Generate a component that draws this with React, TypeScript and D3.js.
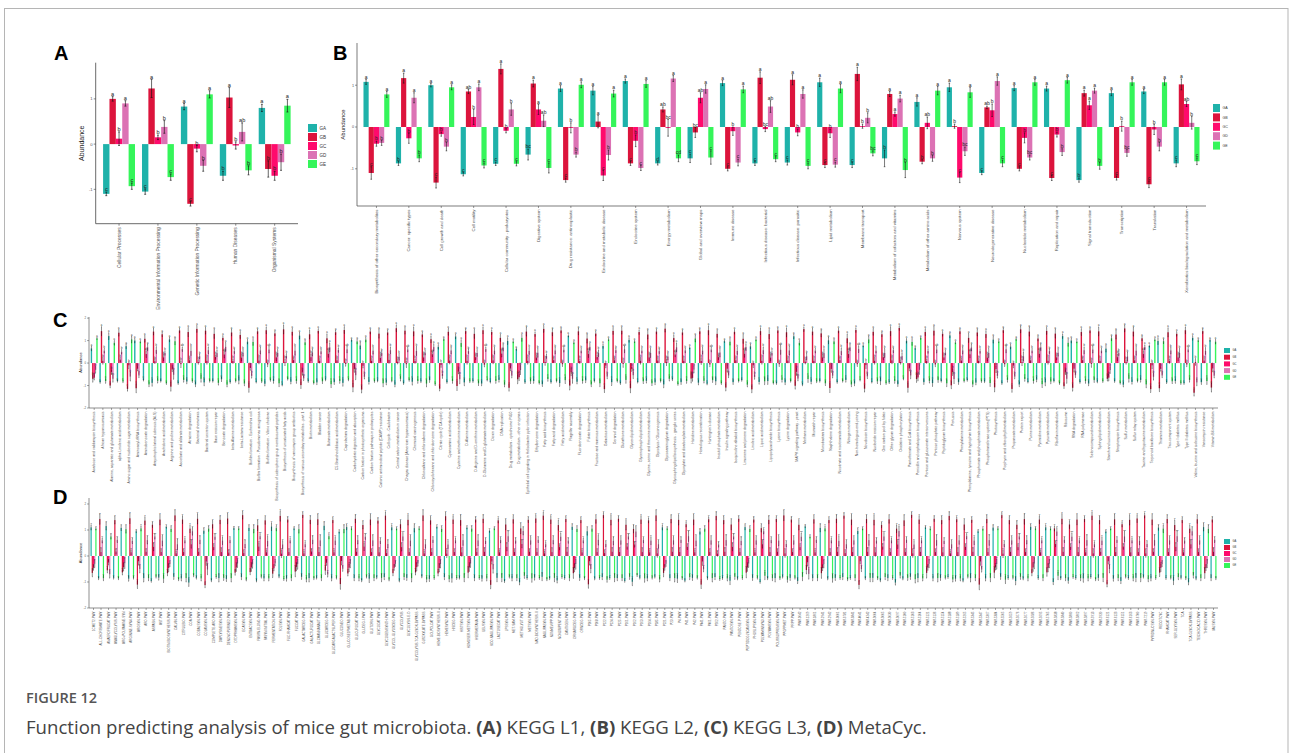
import React from "react";
import * as d3 from "d3";

const groups = ["GA", "GB", "GC", "GD", "GE"];
const groupColors = ["#1FB2AA", "#DC143C", "#FF0A6C", "#DC72B4", "#35F55A"];
const chartFont = "Liberation Sans, Arial, sans-serif";

// ---------- A : KEGG L1
const aCategories = ["Cellular Processes", "Environmental Information Processing", "Genetic Information Processing", "Human Diseases", "Organismal Systems"];
const aGA = [-1.1, -1.05, 0.83, -0.7, 0.8];
const aGB = [1.0, 1.23, -1.32, 1.03, -0.55];
const aGC = [0.12, 0.15, -0.1, -0.03, -0.7];
const aGD = [0.9, 0.38, -0.48, 0.27, -0.4];
const aGE = [-0.93, -0.73, 1.1, -0.58, 0.85];
const aErrGA = [0.04, 0.06, 0.07, 0.1, 0.08];
const aErrGB = [0.05, 0.2, 0.05, 0.22, 0.18];
const aErrGC = [0.15, 0.05, 0.07, 0.08, 0.1];
const aErrGD = [0.06, 0.14, 0.12, 0.2, 0.18];
const aErrGE = [0.07, 0.07, 0.08, 0.1, 0.14];
const aLetGA = ["c", "c", "a", "b", "a"];
const aLetGB = ["a", "a", "c", "a", "b"];
const aLetGC = ["b", "b", "b", "b", "b"];
const aLetGD = ["a", "b", "b", "ab", "b"];
const aLetGE = ["c", "c", "a", "b", "a"];

// ---------- B : KEGG L2
const bCategories = [
  "Biosynthesis of other secondary metabolites", "Cancer: specific types", "Cell growth and death", "Cell motility",
  "Cellular community - prokaryotes", "Digestive system", "Drug resistance: antineoplastic", "Endocrine and metabolic disease",
  "Endocrine system", "Energy metabolism", "Global and overview maps", "Immune disease", "Infectious disease: bacterial",
  "Infectious disease: parasitic", "Lipid metabolism", "Membrane transport", "Metabolism of cofactors and vitamins",
  "Metabolism of other amino acids", "Nervous system", "Neurodegenerative disease", "Nucleotide metabolism",
  "Replication and repair", "Signal transduction", "Transcription", "Translation", "Xenobiotics biodegradation and metabolism",
];
const bGA = [1.08, -0.87, 1.0, -1.13, -0.88, -0.66, 0.92, 0.87, 1.1, -0.87, -0.75, 1.05, -0.87, -0.85, 1.07, -0.91, -0.75, 0.6, 0.95, -1.1, 0.93, 0.92, -1.27, 0.81, 0.85, -0.87];
const bGB = [-1.1, 1.17, -1.33, 0.85, 1.39, 1.04, -1.27, 0.13, -0.87, 0.42, -0.13, -1.0, 1.18, 1.13, -0.91, 1.27, 0.79, -0.83, 0.02, 0.47, -1.0, -1.22, 0.81, -1.22, -1.37, 1.02];
const bGC = [-0.4, -0.27, -0.17, 0.24, -0.09, 0.42, -0.02, -1.16, -0.33, -0.02, 0.7, -0.1, -0.05, -0.13, -0.15, 0.02, 0.31, 0.1, -1.21, 0.4, -0.26, -0.18, 0.52, 0.02, -0.06, 0.55];
const bGD = [-0.38, 0.7, -0.47, 0.95, 0.42, 0.15, -0.66, -0.67, -0.98, 1.16, 0.91, -0.85, 0.49, 0.79, -0.9, 0.22, 0.68, -0.75, -0.58, 1.1, -0.73, -0.6, 0.87, -0.62, -0.47, 0.1];
const bGE = [0.78, -0.75, 0.95, -0.92, -0.88, -0.98, 1.01, 0.8, 1.03, -0.75, -0.73, 0.9, -0.77, -0.93, 0.92, -0.63, -1.03, 0.87, 0.83, -0.87, 1.07, 1.12, -0.93, 1.07, 1.07, -0.82];
const bErrGA = [0.06, 0.05, 0.04, 0.04, 0.04, 0.13, 0.07, 0.1, 0.05, 0.04, 0.1, 0.06, 0.05, 0.06, 0.1, 0.06, 0.2, 0.1, 0.1, 0.04, 0.06, 0.06, 0.05, 0.06, 0.05, 0.08];
const bErrGB = [0.15, 0.12, 0.13, 0.05, 0.12, 0.08, 0.05, 0.15, 0.05, 0.06, 0.12, 0.05, 0.14, 0.12, 0.06, 0.16, 0.06, 0.05, 0.05, 0.03, 0.05, 0.06, 0.07, 0.05, 0.08, 0.13];
const bErrGC = [0.06, 0.12, 0.05, 0.18, 0.05, 0.12, 0.12, 0.12, 0.14, 0.2, 0.12, 0.1, 0.06, 0.08, 0.1, 0.05, 0.05, 0.14, 0.12, 0.15, 0.12, 0.06, 0.1, 0.12, 0.12, 0.06];
const bErrGD = [0.06, 0.12, 0.1, 0.08, 0.14, 0.14, 0.06, 0.12, 0.06, 0.07, 0.1, 0.08, 0.14, 0.1, 0.06, 0.12, 0.08, 0.07, 0.1, 0.1, 0.06, 0.08, 0.06, 0.08, 0.1, 0.15];
const bErrGE = [0.07, 0.08, 0.06, 0.06, 0.05, 0.12, 0.07, 0.08, 0.08, 0.08, 0.16, 0.08, 0.06, 0.07, 0.1, 0.06, 0.18, 0.1, 0.12, 0.08, 0.07, 0.07, 0.08, 0.07, 0.07, 0.08];
const bLetGA = ["a", "b", "a", "c", "c", "bc", "a", "a", "a", "d", "c", "a", "c", "c", "a", "c", "b", "a", "a", "c", "a", "a", "b", "a", "a", "c"];
const bLetGB = ["c", "a", "c", "ab", "a", "a", "c", "a", "c", "ab", "bc", "c", "a", "a", "c", "a", "a", "b", "b", "ab", "c", "c", "a", "c", "c", "a"];
const bLetGC = ["b", "b", "b", "b", "b", "a", "b", "c", "b", "bc", "ab", "b", "bc", "b", "b", "b", "a", "ab", "c", "b", "b", "b", "a", "b", "b", "ab"];
const bLetGD = ["b", "a", "b", "a", "b", "ab", "b", "b", "c", "a", "a", "c", "ab", "a", "c", "b", "a", "b", "bc", "a", "bc", "b", "a", "bc", "b", "b"];
const bLetGE = ["a", "b", "a", "c", "c", "c", "a", "a", "a", "cd", "c", "a", "c", "c", "a", "bc", "b", "a", "a", "c", "a", "a", "b", "a", "a", "c"];

// ---------- C : KEGG L3
const cCategories = [
  "Acarbose and validamycin biosynthesis", "African trypanosomiasis", "Alanine, aspartate and glutamate metabolism", "alpha-Linolenic acid metabolism",
  "Amino sugar and nucleotide sugar metabolism", "Aminoacyl-tRNA biosynthesis", "Aminobenzoate degradation", "Amyotrophic lateral sclerosis (ALS)",
  "Arachidonic acid metabolism", "Arginine and proline metabolism", "Ascorbate and aldarate metabolism", "Atrazine degradation",
  "Bacterial chemotaxis", "Bacterial secretion system", "Base excision repair", "Benzoate degradation", "beta-Alanine metabolism",
  "beta-Lactam resistance", "Biofilm formation - Escherichia coli", "Biofilm formation - Pseudomonas aeruginosa", "Biofilm formation - Vibrio cholerae",
  "Biosynthesis of siderophore group nonribosomal peptides", "Biosynthesis of unsaturated fatty acids", "Biosynthesis of vancomycin group antibiotics",
  "Biosynthesis of various secondary metabolites - part 1", "Biotin metabolism", "Bladder cancer", "Butanoate metabolism",
  "C5-Branched dibasic acid metabolism", "Caprolactam degradation", "Carbohydrate digestion and absorption", "Carbon fixation in photosynthetic organisms",
  "Carbon fixation pathways in prokaryotes", "Cationic antimicrobial peptide (CAMP) resistance", "Cell cycle - Caulobacter", "Central carbon metabolism in cancer",
  "Chagas disease (American trypanosomiasis)", "Chemical carcinogenesis", "Chloroalkane and chloroalkene degradation", "Chlorocyclohexane and chlorobenzene degradation",
  "Citrate cycle (TCA cycle)", "Cyanoamino acid metabolism", "Cysteine and methionine metabolism", "D-Alanine metabolism",
  "D-Arginine and D-ornithine metabolism", "D-Glutamine and D-glutamate metabolism", "Dioxin degradation", "DNA replication",
  "Drug metabolism - cytochrome P450", "Drug metabolism - other enzymes", "Epithelial cell signaling in Helicobacter pylori infection", "Ethylbenzene degradation",
  "Fatty acid biosynthesis", "Fatty acid degradation", "Fatty acid metabolism", "Flagellar assembly", "Fluorobenzoate degradation", "Folate biosynthesis",
  "Fructose and mannose metabolism", "Galactose metabolism", "Geraniol degradation", "Glutathione metabolism", "Glycerolipid metabolism",
  "Glycerophospholipid metabolism", "Glycine, serine and threonine metabolism", "Glycolysis / Gluconeogenesis", "Glycosaminoglycan degradation",
  "Glycosphingolipid biosynthesis - ganglio series", "Glyoxylate and dicarboxylate metabolism", "Histidine metabolism", "Homologous recombination",
  "Huntington's disease", "Inositol phosphate metabolism", "Insulin signaling pathway", "Isoquinoline alkaloid biosynthesis", "Limonene and pinene degradation",
  "Linoleic acid metabolism", "Lipoic acid metabolism", "Lipopolysaccharide biosynthesis", "Lysine biosynthesis", "Lysine degradation",
  "MAPK signaling pathway - yeast", "Methane metabolism", "Mismatch repair", "Monobactam biosynthesis", "Naphthalene degradation",
  "Nicotinate and nicotinamide metabolism", "Nitrogen metabolism", "Non-homologous end-joining", "Novobiocin biosynthesis", "Nucleotide excision repair",
  "One carbon pool by folate", "Other glycan degradation", "Oxidative phosphorylation", "Pantothenate and CoA biosynthesis",
  "Penicillin and cephalosporin biosynthesis", "Pentose and glucuronate interconversions", "Pentose phosphate pathway", "Peptidoglycan biosynthesis",
  "Pertussis", "Phenylalanine metabolism", "Phenylalanine, tyrosine and tryptophan biosynthesis", "Phosphonate and phosphinate metabolism",
  "Phosphotransferase system (PTS)", "Photosynthesis", "Porphyrin and chlorophyll metabolism", "Propanoate metabolism", "Protein export",
  "Purine metabolism", "Pyrimidine metabolism", "Pyruvate metabolism", "Riboflavin metabolism", "Ribosome", "RNA degradation", "RNA polymerase",
  "Selenocompound metabolism", "Sphingolipid metabolism", "Starch and sucrose metabolism", "Streptomycin biosynthesis", "Sulfur metabolism",
  "Sulfur relay system", "Taurine and hypotaurine metabolism", "Terpenoid backbone biosynthesis", "Thiamine metabolism", "Two-component system",
  "Type I diabetes mellitus", "Type II diabetes mellitus", "Valine, leucine and isoleucine biosynthesis", "Vancomycin resistance", "Vitamin B6 metabolism",
];
const cGA = [
  0.65, -0.85, 1.2, -0.8, 0.75, 1.0, -0.75, -0.88, -0.8, 1.05,
  -0.9, -0.82, -0.95, -0.86, -0.8, -0.72, -0.85, -0.78, 0.95, -0.84,
  -0.92, -0.8, -0.97, -0.83, 1.22, -0.81, -0.86, -0.74, -0.85, -0.88,
  1.02, 0.78, -0.84, -0.79, -0.87, -0.96, -0.9, -0.83, -0.82, -0.76,
  0.72, -0.85, 1.18, -0.86, -0.81, -0.91, -0.84, -0.75, 0.98, 0.62,
  -0.86, -0.8, -0.94, -0.85, -0.89, 1.21, -0.83, -0.77, -0.8, 0.76,
  -0.85, -0.9, 1.03, -0.84, -0.79, -0.86, -0.95, -0.73, -0.85, 0.68,
  -0.87, -0.92, -0.81, 0.97, -0.85, -0.76, 0.74, -0.84, -0.8, -0.9,
  -0.86, 1.19, -0.96, -0.83, -0.8, 1.01, -0.85, -0.75, -0.91, 0.77,
  -0.84, -0.81, -0.86, -0.94, 0.99, 0.66, -0.85, -0.89, -0.8, 1.23,
  -0.85, -0.76, -0.87, -0.82, 1.04, -0.9, 0.73, -0.95, -0.84, -0.74,
  -0.86, -0.8, 1.2, 1.0, -0.85, -0.91, -0.83, 0.64, -0.81, -0.96,
  -0.84, -0.75, 0.76, 0.98, -0.86, -0.8, -0.9, 1.12, -0.85, 1.02,
];
const cGB = [
  -0.7, 1.42, -1.0, 1.35, -1.15, -1.12, 1.08, 1.4, 1.28, -1.05,
  1.45, 1.38, 1.52, 1.44, 1.3, 1.12, 1.36, 1.25, -1.1, 1.41,
  1.46, 1.32, 1.5, 1.39, -0.98, 1.28, 1.43, 1.1, 1.37, 1.47,
  -1.08, -1.18, 1.4, 1.31, 1.36, 1.55, 1.44, 1.41, 1.27, 1.06,
  -1.14, 1.39, -1.02, 1.42, 1.3, 1.46, 1.38, 1.12, -1.1, -0.72,
  1.4, 1.29, 1.52, 1.37, 1.45, -1.0, 1.41, 1.09, 1.31, -1.16,
  1.43, 1.44, -1.12, 1.38, 1.27, 1.4, 1.53, 1.11, 1.36, -0.69,
  1.41, 1.46, 1.3, -1.09, 1.39, 1.08, -1.17, 1.42, 1.29, 1.45,
  1.37, -1.01, 1.51, 1.4, 1.32, -1.11, 1.44, 1.1, 1.47, -1.14,
  1.39, 1.28, 1.42, 1.56, -1.1, -0.71, 1.38, 1.44, 1.3, -0.99,
  1.41, 1.12, 1.36, 1.29, -1.08, 1.46, -1.15, 1.5, 1.4, 1.09,
  1.43, 1.31, -1.03, -1.1, 1.38, 1.45, 1.41, -0.7, 1.27, 1.54,
  1.4, 1.1, -1.16, -1.12, 1.37, 1.3, 1.46, -1.32, 1.42, -1.09,
];
const cGC = [
  -0.65, 0.1, -0.4, 0.15, -0.1, -0.25, 0.4, 0.08, 0.25, -0.28,
  -0.05, 0.12, 0.05, 0.1, 0.27, 0.38, 0.09, 0.24, -0.22, 0.11,
  -0.06, 0.25, 0.04, 0.13, -0.42, 0.26, 0.1, 0.41, 0.12, -0.04,
  -0.26, -0.12, 0.1, 0.23, 0.14, 0.06, -0.05, 0.09, 0.25, 0.39,
  -0.09, 0.11, -0.38, 0.1, 0.26, -0.07, 0.12, 0.42, -0.24, -0.63,
  0.1, 0.24, 0.05, 0.13, -0.05, -0.41, 0.09, 0.4, 0.27, -0.11,
  0.12, -0.04, -0.27, 0.1, 0.25, 0.11, 0.04, 0.38, 0.1, -0.66,
  0.09, -0.06, 0.26, -0.25, 0.12, 0.41, -0.1, 0.1, 0.24, -0.05,
  0.11, -0.39, 0.06, 0.1, 0.25, -0.26, 0.13, 0.4, -0.05, -0.09,
  0.1, 0.26, 0.12, 0.05, -0.24, -0.64, 0.09, -0.06, 0.25, -0.4,
  0.11, 0.39, 0.1, 0.24, -0.27, -0.05, -0.11, 0.04, 0.12, 0.41,
  0.1, 0.25, -0.41, -0.25, 0.13, -0.04, 0.1, -0.65, 0.26, 0.05,
  0.12, 0.4, -0.1, -0.26, 0.09, 0.25, -0.06, 0.05, 0.11, -0.24,
];
const cGD = [
  -0.3, 0.55, -0.7, 0.5, -0.6, -0.55, 0.7, 0.58, 0.45, -0.52,
  0.62, 0.54, 0.3, 0.57, 0.44, 0.72, 0.53, 0.46, -0.57, 0.56,
  0.6, 0.45, 0.32, 0.55, -0.68, 0.47, 0.52, 0.7, 0.58, 0.61,
  -0.54, -0.61, 0.55, 0.44, 0.57, 0.28, 0.6, 0.54, 0.46, 0.71,
  -0.58, 0.56, -0.72, 0.53, 0.45, 0.62, 0.55, 0.69, -0.56, -0.31,
  0.54, 0.46, 0.31, 0.56, 0.59, -0.7, 0.55, 0.72, 0.44, -0.6,
  0.57, 0.61, -0.54, 0.55, 0.45, 0.53, 0.29, 0.7, 0.56, -0.29,
  0.55, 0.6, 0.47, -0.55, 0.54, 0.71, -0.62, 0.57, 0.45, 0.59,
  0.56, -0.69, 0.3, 0.55, 0.44, -0.56, 0.53, 0.7, 0.62, -0.59,
  0.55, 0.45, 0.57, 0.31, -0.55, -0.3, 0.54, 0.6, 0.46, -0.71,
  0.56, 0.69, 0.54, 0.45, -0.57, 0.61, -0.6, 0.3, 0.55, 0.7,
  0.53, 0.46, -0.7, -0.54, 0.57, 0.6, 0.55, -0.31, 0.44, 0.29,
  0.55, 0.71, -0.61, -0.55, 0.56, 0.45, 0.6, -0.86, 0.54, -0.56,
];
const cGE = [
  1.1, -0.8, 0.9, -0.82, 1.05, 0.95, -0.95, -0.79, -0.9, 0.97,
  -0.75, -0.81, -0.7, -0.8, -0.88, -0.96, -0.8, -0.91, 0.94, -0.82,
  -0.76, -0.9, -0.71, -0.8, 0.92, -0.89, -0.81, -0.94, -0.8, -0.74,
  0.96, 1.04, -0.81, -0.9, -0.79, -0.7, -0.76, -0.8, -0.91, -0.95,
  1.06, -0.8, 0.89, -0.82, -0.9, -0.75, -0.8, -0.96, 0.95, 1.12,
  -0.81, -0.89, -0.71, -0.8, -0.76, 0.91, -0.8, -0.95, -0.9, 1.05,
  -0.8, -0.75, 0.96, -0.81, -0.9, -0.8, -0.7, -0.94, -0.8, 1.09,
  -0.79, -0.76, -0.9, 0.95, -0.8, -0.96, 1.04, -0.81, -0.89, -0.75,
  -0.8, 0.9, -0.71, -0.82, -0.9, 0.96, -0.8, -0.95, -0.75, 1.05,
  -0.81, -0.9, -0.8, -0.7, 0.94, 1.11, -0.79, -0.76, -0.9, 0.91,
  -0.8, -0.95, -0.81, -0.89, 0.96, -0.75, 1.06, -0.71, -0.8, -0.94,
  -0.82, -0.9, 0.9, 0.95, -0.8, -0.76, -0.81, 1.1, -0.89, -0.7,
  -0.8, -0.95, 1.04, 0.97, -0.81, -0.9, -0.75, 1.01, -0.8, 0.95,
];
// error bars: one digit per bar, digit x 0.05
const cErrGA = ["2131221312", "1223121321", "2212312123", "1321221312", "2123121231", "1221312212", "3121223121", "2131212231", "2212131221", "1312212312", "2121312212", "3122121312", "2213121221"].join("");
const cErrGB = ["3423243324", "2433423342", "3243342423", "4324233423", "2342432334", "4233243423", "3342423324", "2433243342", "4323342423", "3242433423", "2433423342", "3423324243", "4233423324"].join("");
const cErrGC = ["2322323232", "3223232323", "2332232322", "3223323232", "2323223323", "3232232322", "2323323223", "3223232332", "2322332323", "3232232223", "2323322323", "3223232332", "2332232323"].join("");
const cErrGD = ["3232423324", "2423342323", "3324232423", "4232332423", "2342323324", "3423242332", "2332423423", "3242332324", "4232423332", "2423342324", "3324232423", "2342332324", "4232342332"].join("");
const cErrGE = ["1221312213", "2131221231", "1312212321", "2213121231", "1231212213", "2121312231", "1312212123", "2213121312", "1231221213", "2121312231", "1213121223", "2131221213", "1312212132"].join("");
// letters: x = ab, y = bc, z = cd
const cLetGA = ["acacaaccca", "ccccccccac", "ccccaccccc", "aacccccccc", "acacccccaa", "cccccaccca", "ccacccccca", "cccaccaccc", "cacccaccca", "ccccaaccca", "ccccacaccc", "ccaacccacc", "ccaacccaca"].join("");
const cLetGB = ["bacaccaaac", "aaaaaaaaca", "aaaacaaaaa", "ccaaaaaaaa", "cacaaaaacb", "aaaaacaaac", "aacaaaaaab", "aaacaacaaa", "acaaacaaac", "aaaacbaaac", "aaaacacaaa", "aaccaaabaa", "aaccaaacac"].join("");
const cLetGC = ["bbbbbbxbbb", "bbbbbxbbbb", "bbbbbbbxbb", "bbbbbbbbbx", "bbbbbbbxbb", "bbbbbbbxbb", "bbbbbbbxbb", "bbbbbxbbbb", "bbbbbbbxbb", "bbbbbbbbbb", "bxbbbbbbbx", "bbbbbbbbbb", "bxbbbbbbbb"].join("");
const cLetGD = ["bbybbbabbb", "xbbbbabbbb", "xbbbybbabx", "bbbbbbxbba", "bbybbxbabb", "bbbbxybabb", "bxbbbbbabb", "bxbbbabbbx", "bybbbbbaxb", "bbbbbbbxby", "babbbxbbba", "bbybbxbbbb", "babbbbxcbb"].join("");
const cLetGE = cLetGA;

// ---------- D : MetaCyc
const dCategories = [
  "1CMET2-PWY", "ALL-CHORISMATE-PWY", "ANAEROFRUCAT-PWY", "ANAGLYCOLYSIS-PWY", "ARG+POLYAMINE-SYN", "ARGININE-SYN4-PWY", "ARGSYN-PWY", "ARO-PWY",
  "ASPASN-PWY", "AST-PWY", "BIOTIN-BIOSYNTHESIS-PWY", "CALVIN-PWY", "CITRULBIO-PWY", "COA-PWY", "COBALSYN-PWY", "COLANSYN-PWY",
  "COMPLETE-ARO-PWY", "DAPLYSINESYN-PWY", "DENOVOPURINE2-PWY", "DTDPRHAMSYN-PWY", "ECASYN-PWY", "ENTBACSYN-PWY", "FASYN-ELONG-PWY",
  "FASYN-INITIAL-PWY", "FERMENTATION-PWY", "FOLSYN-PWY", "FUC-RHAMCAT-PWY", "FUCCAT-PWY", "GALACTARDEG-PWY", "GALACTUROCAT-PWY",
  "GLCMANNANAUT-PWY", "GLUCARDEG-PWY", "GLUCARGALACTSUPER-PWY", "GLUCONEO-PWY", "GLUCOSE1PMETAB-PWY", "GLUCUROCAT-PWY", "GLUDEG-I-PWY",
  "GLUTORN-PWY", "GLYCOCAT-PWY", "GLYCOGENSYNTH-PWY", "GLYCOL-GLYOXDEG-PWY", "GLYCOLYSIS", "GLYCOLYSIS-E-D", "GLYCOLYSIS-TCA-GLYOX-BYPASS",
  "GLYOXYLATE-BYPASS", "GOLPDLCAT-PWY", "HEME-BIOSYNTHESIS-II", "HEMESYN2-PWY", "HISDEG-PWY", "HISTSYN-PWY", "HOMOSER-METSYN-PWY",
  "HSERMETANA-PWY", "ILEUSYN-PWY", "KDO-NAGLIPASYN-PWY", "LACTOSECAT-PWY", "LPSSYN-PWY", "MET-SAM-PWY", "METHGLYUT-PWY", "METSYN-PWY",
  "NAD-BIOSYNTHESIS-II", "NAGLIPASYN-PWY", "NONMEVIPP-PWY", "NONOXIPENT-PWY", "OANTIGEN-PWY", "ORNARGDEG-PWY", "ORNDEG-PWY", "P105-PWY",
  "P108-PWY", "P122-PWY", "P124-PWY", "P125-PWY", "P161-PWY", "P162-PWY", "P163-PWY", "P164-PWY", "P185-PWY", "P221-PWY", "P23-PWY",
  "P4-PWY", "P41-PWY", "P42-PWY", "P441-PWY", "P461-PWY", "P562-PWY", "PANTO-PWY", "PANTOSYN-PWY", "PENTOSE-P-PWY", "PEPTIDOGLYCANSYN-PWY",
  "PHOSLIPSYN-PWY", "POLYAMINSYN3-PWY", "POLYAMSYN-PWY", "POLYISOPRENSYN-PWY", "PPGPPMET-PWY", "PRPP-PWY", "PWY-1042", "PWY-1269",
  "PWY-1861", "PWY-2941", "PWY-2942", "PWY-3001", "PWY-3781", "PWY-3841", "PWY-4041", "PWY-4242", "PWY-5004", "PWY-5005", "PWY-5030",
  "PWY-5097", "PWY-5100", "PWY-5103", "PWY-5104", "PWY-5121", "PWY-5136", "PWY-5154", "PWY-5188", "PWY-5189", "PWY-5265", "PWY-5345",
  "PWY-5347", "PWY-5367", "PWY-5384", "PWY-5505", "PWY-5659", "PWY-5676", "PWY-5677", "PWY-5686", "PWY-5695", "PWY-5705", "PWY-5838",
  "PWY-5840", "PWY-5860", "PWY-5862", "PWY-5897", "PWY-5913", "PWY-5920", "PWY-6121", "PWY-6123", "PWY-6151", "PWY-6163", "PWY-6700",
  "PWY-7219", "PYRIDNUCSYN-PWY", "REDCITCYC", "RHAMCAT-PWY", "SER-GLYSYN-PWY", "TCA", "TCA-GLYOX-BYPASS", "TEICHOICACID-PWY",
  "THRESYN-PWY", "VALSYN-PWY",
];
const dGA = [
  1.1, -0.86, 1.15, -0.84, 1.08, -0.87, 0.95, -0.85, -0.96, -0.83,
  1.12, -0.8, -0.86, -1.02, -0.84, 0.97, -0.94, -0.85, -0.88, 1.07,
  -0.81, 1.08, -0.95, -0.86, 1.13, -0.79, -0.87, 1.06, -0.8, -0.85,
  -0.84, 1.16, -0.86, 0.93, 1.11, -0.85, -0.94, -0.87, -0.83, -0.81,
  1.1, -0.95, -0.84, 1.07, -0.79, -0.88, 1.12, -0.81, -0.86, -0.84,
  1.09, -0.85, -0.87, 0.96, -0.84, -0.97, -0.86, -1.01, -0.85, -0.83,
  -0.8, -0.86, -0.94, -0.85, 1.12, -0.84, 0.95, -0.87, -0.81, -0.85,
  -0.85, -0.96, -0.99, -0.84, -0.86, -0.8, 1.1, -0.85, -0.87, -0.95,
  -0.84, 0.94, -0.86, -0.81, -0.85, -0.95, -0.87, 1.11, -0.84, -1.0,
  -0.86, -0.85, -0.8, -0.84, -0.96, 1.14, -0.85, 1.08, -0.87, -0.84,
  -0.81, -0.85, 0.96, -0.86, -0.84, -0.94, -0.85, -1.02, -0.87, -0.8,
  -0.85, 1.1, -0.86, -0.84, -0.81, -0.87, -0.95, -0.85, 0.95, -0.86,
  1.09, -0.8, -0.85, -0.96, -0.87, 1.12, -0.85, 1.1, -1.0, -0.86,
  -0.95, -0.85, -0.86, -0.81, -0.84, 0.94, -0.87, -0.96, -0.85, -0.84,
  -0.8, -0.86, 1.09, -0.85, -0.95, -0.84, -1.01, -0.87, 1.11, -0.85,
];
const dGB = [
  -0.65, 1.42, -0.55, 1.38, -0.63, 1.45, -1.1, 1.36, 1.2, 1.4,
  -0.66, 1.56, 1.4, 1.05, 1.43, -1.12, 1.22, 1.39, 1.44, -0.64,
  1.57, -0.62, 1.18, 1.37, -0.68, 1.54, 1.4, -0.6, 1.58, 1.39,
  1.41, -0.56, 1.38, -1.08, -0.67, 1.43, 1.19, 1.4, 1.36, 1.55,
  -0.66, 1.22, 1.39, -0.63, 1.56, 1.37, -0.67, 1.53, 1.4, 1.38,
  -0.64, 1.4, 1.43, -1.11, 1.37, 1.21, 1.41, 1.06, 1.39, 1.44,
  1.55, 1.4, 1.19, 1.42, -0.66, 1.38, -1.09, 1.41, 1.57, 1.39,
  1.43, 1.2, 1.04, 1.4, 1.37, 1.56, -0.65, 1.42, 1.39, 1.22,
  1.4, -1.1, 1.41, 1.54, 1.38, 1.21, 1.43, -0.64, 1.4, 1.07,
  1.39, 1.42, 1.56, 1.4, 1.2, -0.54, 1.41, -0.66, 1.38, 1.43,
  1.55, 1.4, -1.11, 1.42, 1.39, 1.19, 1.41, 1.05, 1.37, 1.58,
  1.4, -0.65, 1.43, 1.38, 1.54, 1.41, 1.21, 1.39, -1.1, 1.42,
  -0.64, 1.57, 1.38, 1.2, 1.42, -0.66, 1.4, -0.63, 1.06, 1.43,
  1.21, 1.4, 1.42, 1.55, 1.38, -1.09, 1.41, 1.22, 1.39, 1.44,
  1.56, 1.4, -0.64, 1.42, 1.19, 1.38, 1.05, 1.41, -0.66, 1.4,
];
const dGC = [
  -0.45, 0.15, -0.25, 0.17, -0.43, 0.14, -0.2, 0.16, 0.35, 0.15,
  -0.46, 0.1, 0.15, 0.45, 0.16, -0.21, 0.34, 0.15, 0.13, -0.44,
  0.11, -0.44, 0.36, 0.14, -0.47, 0.09, 0.15, -0.42, 0.1, 0.17,
  0.15, -0.26, 0.14, -0.19, -0.45, 0.16, 0.36, 0.15, 0.14, 0.11,
  -0.45, 0.34, 0.15, -0.43, 0.1, 0.15, -0.46, 0.09, 0.15, 0.14,
  -0.44, 0.15, 0.16, -0.21, 0.14, 0.35, 0.15, 0.46, 0.16, 0.15,
  0.1, 0.15, 0.34, 0.16, -0.46, 0.14, -0.2, 0.15, 0.11, 0.16,
  0.15, 0.36, 0.44, 0.15, 0.14, 0.1, -0.45, 0.16, 0.15, 0.35,
  0.14, -0.21, 0.15, 0.09, 0.16, 0.35, 0.15, -0.44, 0.14, 0.45,
  0.15, 0.16, 0.1, 0.15, 0.34, -0.24, 0.14, -0.46, 0.15, 0.16,
  0.11, 0.15, -0.2, 0.16, 0.14, 0.36, 0.15, 0.44, 0.15, 0.1,
  0.16, -0.45, 0.15, 0.14, 0.1, 0.15, 0.35, 0.16, -0.21, 0.15,
  -0.44, 0.09, 0.16, 0.34, 0.15, -0.44, 0.14, -0.46, 0.46, 0.16,
  0.35, 0.15, 0.14, 0.1, 0.16, -0.2, 0.15, 0.36, 0.14, 0.15,
  0.1, 0.16, -0.45, 0.15, 0.35, 0.14, 0.45, 0.15, -0.46, 0.16,
];
const dGD = [
  -0.3, 0.6, -0.7, 0.62, -0.28, 0.58, -0.5, 0.61, 0.75, 0.59,
  -0.31, 0.45, 0.6, 0.95, 0.62, -0.52, 0.74, 0.59, 0.61, -0.29,
  0.46, -0.32, 0.76, 0.58, -0.28, 0.44, 0.6, -0.31, 0.45, 0.62,
  0.6, -0.71, 0.59, -0.49, -0.3, 0.61, 0.74, 0.6, 0.58, 0.46,
  -0.3, 0.75, 0.59, -0.29, 0.45, 0.62, -0.31, 0.44, 0.6, 0.61,
  -0.29, 0.6, 0.58, -0.51, 0.61, 0.76, 0.59, 0.96, 0.6, 0.62,
  0.45, 0.61, 0.74, 0.59, -0.31, 0.6, -0.5, 0.62, 0.46, 0.58,
  0.6, 0.75, 0.94, 0.61, 0.59, 0.45, -0.3, 0.6, 0.62, 0.76,
  0.59, -0.51, 0.6, 0.44, 0.61, 0.75, 0.58, -0.29, 0.6, 0.95,
  0.61, 0.59, 0.46, 0.6, 0.74, -0.69, 0.62, -0.31, 0.6, 0.58,
  0.45, 0.6, -0.5, 0.61, 0.59, 0.75, 0.6, 0.96, 0.62, 0.44,
  0.6, -0.3, 0.61, 0.58, 0.45, 0.6, 0.76, 0.59, -0.52, 0.61,
  -0.31, 0.46, 0.6, 0.75, 0.61, -0.29, 0.6, -0.3, 0.94, 0.62,
  0.74, 0.6, 0.61, 0.45, 0.59, -0.5, 0.62, 0.75, 0.6, 0.58,
  0.46, 0.61, -0.31, 0.6, 0.76, 0.59, 0.95, 0.6, -0.3, 0.62,
];
const dGE = [
  1.05, -0.85, 0.75, -0.86, 1.03, -0.84, 1.06, -0.85, -0.8, -0.87,
  1.04, -0.9, -0.85, -0.75, -0.86, 1.05, -0.81, -0.84, -0.85, 1.06,
  -0.91, 1.04, -0.8, -0.86, 1.07, -0.89, -0.85, 1.03, -0.9, -0.86,
  -0.85, 0.76, -0.84, 1.04, 1.06, -0.86, -0.8, -0.85, -0.84, -0.91,
  1.05, -0.81, -0.85, 1.06, -0.9, -0.85, 1.04, -0.89, -0.85, -0.84,
  1.05, -0.85, -0.86, 1.06, -0.84, -0.8, -0.85, -0.76, -0.86, -0.85,
  -0.9, -0.84, -0.81, -0.85, 1.04, -0.86, 1.05, -0.85, -0.91, -0.84,
  -0.85, -0.8, -0.74, -0.86, -0.84, -0.9, 1.06, -0.85, -0.86, -0.81,
  -0.84, 1.05, -0.85, -0.89, -0.86, -0.8, -0.85, 1.04, -0.84, -0.76,
  -0.85, -0.86, -0.91, -0.84, -0.8, 0.74, -0.85, 1.06, -0.86, -0.85,
  -0.9, -0.85, 1.05, -0.84, -0.86, -0.81, -0.85, -0.75, -0.84, -0.89,
  -0.86, 1.05, -0.85, -0.84, -0.9, -0.86, -0.8, -0.85, 1.04, -0.84,
  1.06, -0.91, -0.84, -0.8, -0.86, 1.06, -0.85, 1.05, -0.76, -0.85,
  -0.81, -0.85, -0.86, -0.9, -0.84, 1.05, -0.85, -0.8, -0.86, -0.84,
  -0.89, -0.85, 1.05, -0.84, -0.81, -0.86, -0.75, -0.85, 1.04, -0.86,
];
const dErrGA = ["2131221312", "1223121321", "2212312123", "1321221312", "2123121231", "1221312212", "3121223121", "2131212231", "2212131221", "1312212312", "2121312212", "3122121312", "2213121221", "2131212213", "1221312132"].join("");
const dErrGB = ["3423243324", "2433423342", "3243342423", "4324233423", "2342432334", "4233243423", "3342423324", "2433243342", "4323342423", "3242433423", "2433423342", "3423324243", "4233423324", "3423324243", "2433423342"].join("");
const dErrGC = ["2322323232", "3223232323", "2332232322", "3223323232", "2323223323", "3232232322", "2323323223", "3223232332", "2322332323", "3232232223", "2323322323", "3223232332", "2332232323", "2323223232", "3232323223"].join("");
const dErrGD = ["3232423324", "2423342323", "3324232423", "4232332423", "2342323324", "3423242332", "2332423423", "3242332324", "4232423332", "2423342324", "3324232423", "2342332324", "4232342332", "3242332423", "2423423332"].join("");
const dErrGE = ["1221312213", "2131221231", "1312212321", "2213121231", "1231212213", "2121312231", "1312212123", "2213121312", "1231221213", "2121312231", "1213121223", "2131221213", "1312212132", "1221312123", "2131212231"].join("");
const dLetGA = ["acacacaccc", "accccaccca", "caccaccacc", "cacaaccccc", "accaccaccc", "accacccccc", "ccccacaccc", "ccccccaccc", "cacccccacc", "cccccacacc", "ccaccccccc", "caccccccac", "accccacacc", "cccccacccc", "ccacccccac"].join("");
const dLetGB = ["bababacaaa", "baaaacaaab", "abaabaabaa", "abacbaaaaa", "baabaabaaa", "baacaaaaaa", "aaaabacaaa", "aaaaaabaaa", "acaaaaabaa", "aaaaababaa", "aacaaaaaaa", "abaaaaaaca", "baaaababaa", "aaaaacaaaa", "aabaaaaaba"].join("");
const dLetGC = ["bbbbbbbbbb", "bbbxbbbbbb", "bbbbbbbbbb", "bbbbbbbbbb", "bbbbbbbbbb", "bbbbbbbxbb", "bbbbbbbbbb", "bbxbbbbbbb", "bbbbbbbbbx", "bbbbbbbbbb", "bbbbbbbxbb", "bbbbbbbbbb", "bbbbbbbbxb", "bbbbbbbbbb", "bbbbbbxbbb"].join("");
const dLetGD = ["bbbbbbbbxb", "bbbabbxbbb", "bbxbbbbbbb", "bbbbbbxbbb", "bxbbbbbbbb", "bbbbbxbabb", "bbxbbbbbbb", "bxabbbbbbx", "bbbbbxbbba", "bbbbxbbbbb", "bbbbbxbabb", "bbbbbbxbbb", "bbbxbbbbab", "xbbbbbbxbb", "bbbbxabbbb"].join("");
const dLetGE = dLetGA;

const letterCode: Record<string, string> = { a: "a", b: "b", c: "c", d: "d", x: "ab", y: "bc", z: "cd" };
const digitsToErr = (s: string) => s.split("").map((d) => +d * 0.05);
const codesToLetters = (s: string) => s.split("").map((c) => letterCode[c]);

type PanelCfg = {
  tag: string;
  tagPos: [number, number];
  categories: string[];
  values: number[][];
  errors: number[][];
  letters: string[][];
  x0: number;
  x1: number;
  yTop: number;
  yBot: number;
  domain: [number, number];
  ticks: number[];
  barRatio: number;
  fs: { label: number; letter: number; tick: number; title: number; legend: number };
  legend: { x: number; y: number; w: number; h: number; gap: number };
  titleX: number;
  stroke: number;
};

const panels: PanelCfg[] = [
  {
    tag: "A", tagPos: [54, 60],
    categories: aCategories,
    values: [aGA, aGB, aGC, aGD, aGE],
    errors: [aErrGA, aErrGB, aErrGC, aErrGD, aErrGE],
    letters: [aLetGA, aLetGB, aLetGC, aLetGD, aLetGE],
    x0: 95.7, x1: 298, yTop: 62.7, yBot: 223.7, domain: [-1.76, 1.8], ticks: [-1, 0, 1],
    barRatio: 0.82,
    fs: { label: 4.9, letter: 5.6, tick: 4.2, title: 7, legend: 4.5 },
    legend: { x: 308, y: 124, w: 9, h: 8, gap: 9 },
    titleX: 84, stroke: 0.8,
  },
  {
    tag: "B", tagPos: [333, 60],
    categories: bCategories,
    values: [bGA, bGB, bGC, bGD, bGE],
    errors: [bErrGA, bErrGB, bErrGC, bErrGD, bErrGE],
    letters: [bLetGA, bLetGB, bLetGC, bLetGD, bLetGE],
    x0: 357, x1: 1206, yTop: 43, yBot: 206, domain: [-1.89, 2.01], ticks: [-1, 0, 1],
    barRatio: 0.8,
    fs: { label: 4.3, letter: 5, tick: 3.8, title: 6, legend: 3.6 },
    legend: { x: 1213, y: 104, w: 7, h: 8, gap: 9.4 },
    titleX: 345, stroke: 0.7,
  },
  {
    tag: "C", tagPos: [53, 327],
    categories: cCategories,
    values: [cGA, cGB, cGC, cGD, cGE],
    errors: [cErrGA, cErrGB, cErrGC, cErrGD, cErrGE].map(digitsToErr),
    letters: [cLetGA, cLetGB, cLetGC, cLetGD, cLetGE].map(codesToLetters),
    x0: 89, x1: 1218, yTop: 317, yBot: 408, domain: [-2, 2.05], ticks: [-2, -1, 0, 1, 2],
    barRatio: 0.8,
    fs: { label: 3.5, letter: 2.6, tick: 2.8, title: 4, legend: 2.6 },
    legend: { x: 1224, y: 348, w: 6, h: 5, gap: 6.7 },
    titleX: 82, stroke: 0.6,
  },
  {
    tag: "D", tagPos: [53, 504],
    categories: dCategories,
    values: [dGA, dGB, dGC, dGD, dGE],
    errors: [dErrGA, dErrGB, dErrGC, dErrGD, dErrGE].map(digitsToErr),
    letters: [dLetGA, dLetGB, dLetGC, dLetGD, dLetGE].map(codesToLetters),
    x0: 89, x1: 1218, yTop: 498, yBot: 608, domain: [-2, 2.23], ticks: [-2, -1, 0, 1, 2],
    barRatio: 0.8,
    fs: { label: 3.0, letter: 2.4, tick: 2.8, title: 4, legend: 2.6 },
    legend: { x: 1224, y: 539, w: 6, h: 5, gap: 6 },
    titleX: 82, stroke: 0.6,
  },
];

function BarPanel({ cfg }: { cfg: PanelCfg }) {
  const x = d3.scalePoint<string>().domain(cfg.categories).range([cfg.x0, cfg.x1]).padding(0.6);
  const groupW = x.step() * cfg.barRatio;
  const sub = d3.scaleBand<string>().domain(groups).range([-groupW / 2, groupW / 2]);
  const bw = sub.bandwidth();
  const y = d3.scaleLinear().domain(cfg.domain).range([cfg.yBot, cfg.yTop]);
  const y0 = y(0);
  const cap = Math.max(bw * 0.3, 0.6);

  const bars: React.ReactNode[] = [];
  const errs: React.ReactNode[] = [];
  const labels: React.ReactNode[] = [];
  groups.forEach((g, gi) => {
    cfg.categories.forEach((c, ci) => {
      const v = cfg.values[gi][ci];
      const e = cfg.errors[gi][ci];
      const bx = (x(c) as number) + (sub(g) as number);
      const cx = bx + bw / 2;
      const yv = y(v);
      bars.push(
        <rect key={`b${gi}-${ci}`} x={bx} y={Math.min(yv, y0)} width={bw} height={Math.abs(yv - y0)} fill={groupColors[gi]} />
      );
      const yHi = y(v + e);
      const yLo = y(v - e);
      errs.push(
        <g key={`e${gi}-${ci}`} stroke="#111" strokeWidth={cfg.stroke * 0.8}>
          <line x1={cx} x2={cx} y1={yLo} y2={yHi} />
          <line x1={cx - cap / 2} x2={cx + cap / 2} y1={yHi} y2={yHi} />
          <line x1={cx - cap / 2} x2={cx + cap / 2} y1={yLo} y2={yLo} />
        </g>
      );
      labels.push(
        <text key={`l${gi}-${ci}`} x={cx} y={yHi - cfg.fs.letter * 0.15} fontSize={cfg.fs.letter} textAnchor="middle" fill="#222">
          {cfg.letters[gi][ci]}
        </text>
      );
    });
  });

  return (
    <g fontFamily={chartFont}>
      <text x={cfg.tagPos[0]} y={cfg.tagPos[1]} fontSize={20} fontWeight="bold" fill="#000">
        {cfg.tag}
      </text>
      {bars}
      {errs}
      {labels}
      {/* axes */}
      <line x1={cfg.x0} x2={cfg.x0} y1={cfg.yTop} y2={cfg.yBot} stroke="#444" strokeWidth={cfg.stroke} />
      <line x1={cfg.x0} x2={cfg.x1} y1={cfg.yBot} y2={cfg.yBot} stroke="#444" strokeWidth={cfg.stroke} />
      {cfg.ticks.map((t) => (
        <g key={`t${t}`}>
          <line x1={cfg.x0 - 2} x2={cfg.x0} y1={y(t)} y2={y(t)} stroke="#444" strokeWidth={cfg.stroke * 0.8} />
          <text x={cfg.x0 - 3} y={y(t)} dy="0.35em" fontSize={cfg.fs.tick} textAnchor="end" fill="#555">
            {t}
          </text>
        </g>
      ))}
      {cfg.categories.map((c) => (
        <g key={`x${c}`}>
          <line x1={x(c)} x2={x(c)} y1={cfg.yBot} y2={cfg.yBot + 2} stroke="#444" strokeWidth={cfg.stroke * 0.8} />
          <text
            transform={`translate(${(x(c) as number) + cfg.fs.label * 0.35},${cfg.yBot + 3.5}) rotate(-90)`}
            fontSize={cfg.fs.label}
            textAnchor="end"
            fill="#555"
          >
            {c}
          </text>
        </g>
      ))}
      <text
        transform={`translate(${cfg.titleX},${(cfg.yTop + cfg.yBot) / 2}) rotate(-90)`}
        fontSize={cfg.fs.title}
        textAnchor="middle"
        fill="#222"
      >
        Abundance
      </text>
      {groups.map((g, gi) => (
        <g key={`lg${g}`}>
          <rect x={cfg.legend.x} y={cfg.legend.y + gi * cfg.legend.gap} width={cfg.legend.w} height={cfg.legend.h} fill={groupColors[gi]} />
          <text
            x={cfg.legend.x + cfg.legend.w + 2.5}
            y={cfg.legend.y + gi * cfg.legend.gap + cfg.legend.h / 2}
            dy="0.35em"
            fontSize={cfg.fs.legend}
            fill="#333"
          >
            {g}
          </text>
        </g>
      ))}
    </g>
  );
}

export default function App() {
  return (
    <svg width={1290} height={753} style={{ position: "absolute", left: 0, top: 0, background: "#fff" }}>
      <rect x={0} y={0} width={1290} height={753} fill="#fff" />
      <rect x={4.5} y={8.5} width={1283.5} height={800} fill="none" stroke="#b5b5b5" strokeWidth={1} />
      {panels.map((p) => (
        <BarPanel key={p.tag} cfg={p} />
      ))}
      <text x={26} y={703} fontFamily="Open Sans, sans-serif" fontSize={14.5} fontWeight={600} fill="#555">
        FIGURE 12
      </text>
      <text x={26} y={734} fontFamily="Open Sans, sans-serif" fontSize={18.6} fill="#444">
        Function predicting analysis of mice gut microbiota. <tspan fontWeight="bold">(A)</tspan> KEGG L1, <tspan fontWeight="bold">(B)</tspan> KEGG L2,{" "}
        <tspan fontWeight="bold">(C)</tspan> KEGG L3, <tspan fontWeight="bold">(D)</tspan> MetaCyc.
      </text>
    </svg>
  );
}
